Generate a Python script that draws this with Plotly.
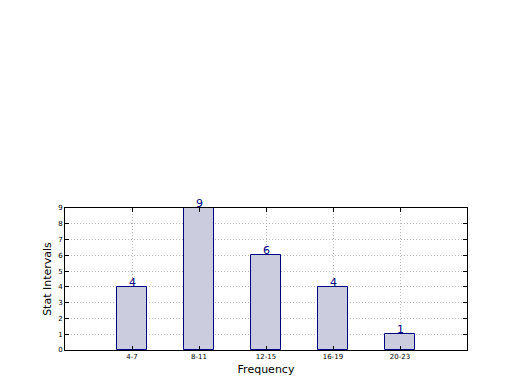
import plotly.graph_objects as go

categories = ["4-7", "8-11", "12-15", "16-19", "20-23"]
values = [4, 9, 6, 4, 1]
positions = [0, 1, 2, 3, 4]
y_ticks = [0, 1, 2, 3, 4, 5, 6, 7, 8, 9]

fig = go.Figure()
fig.add_trace(go.Bar(
    x=positions, y=values, width=0.45,
    marker=dict(color="#ccccdf", line=dict(color="#000080", width=1)),
    showlegend=False, hoverinfo="skip",
))
for p, v in zip(positions, values):
    fig.add_annotation(
        x=p, y=v, text=str(v), showarrow=False, yanchor="bottom", yshift=-4,
        font=dict(color="#000080", size=11, family="DejaVu Sans"),
    )

grid = dict(showgrid=True, gridcolor="#b8b8b8", griddash="1px,2px", gridwidth=1)
fig.update_layout(
    width=520, height=390,
    margin=dict(l=57, r=61, t=200, b=48),
    paper_bgcolor="white", plot_bgcolor="white",
    font=dict(family="DejaVu Sans", color="black"),
    bargap=0,
    xaxis=dict(
        range=[-1, 5], tickmode="array", tickvals=positions, ticktext=categories,
        tickfont=dict(size=7), ticks="inside", ticklen=4, tickcolor="black",
        showline=True, linecolor="black", linewidth=1, mirror="allticks",
        zeroline=False,
        title=dict(text="Frequency", font=dict(size=11), standoff=4),
        **grid,
    ),
    yaxis=dict(
        range=[0, 9], tickmode="array", tickvals=y_ticks,
        tickfont=dict(size=7), ticks="inside", ticklen=4, tickcolor="black",
        showline=True, linecolor="black", linewidth=1, mirror="allticks",
        zeroline=False,
        title=dict(text="Stat Intervals", font=dict(size=11), standoff=4),
        **grid,
    ),
)
fig.write_html("out.html")
